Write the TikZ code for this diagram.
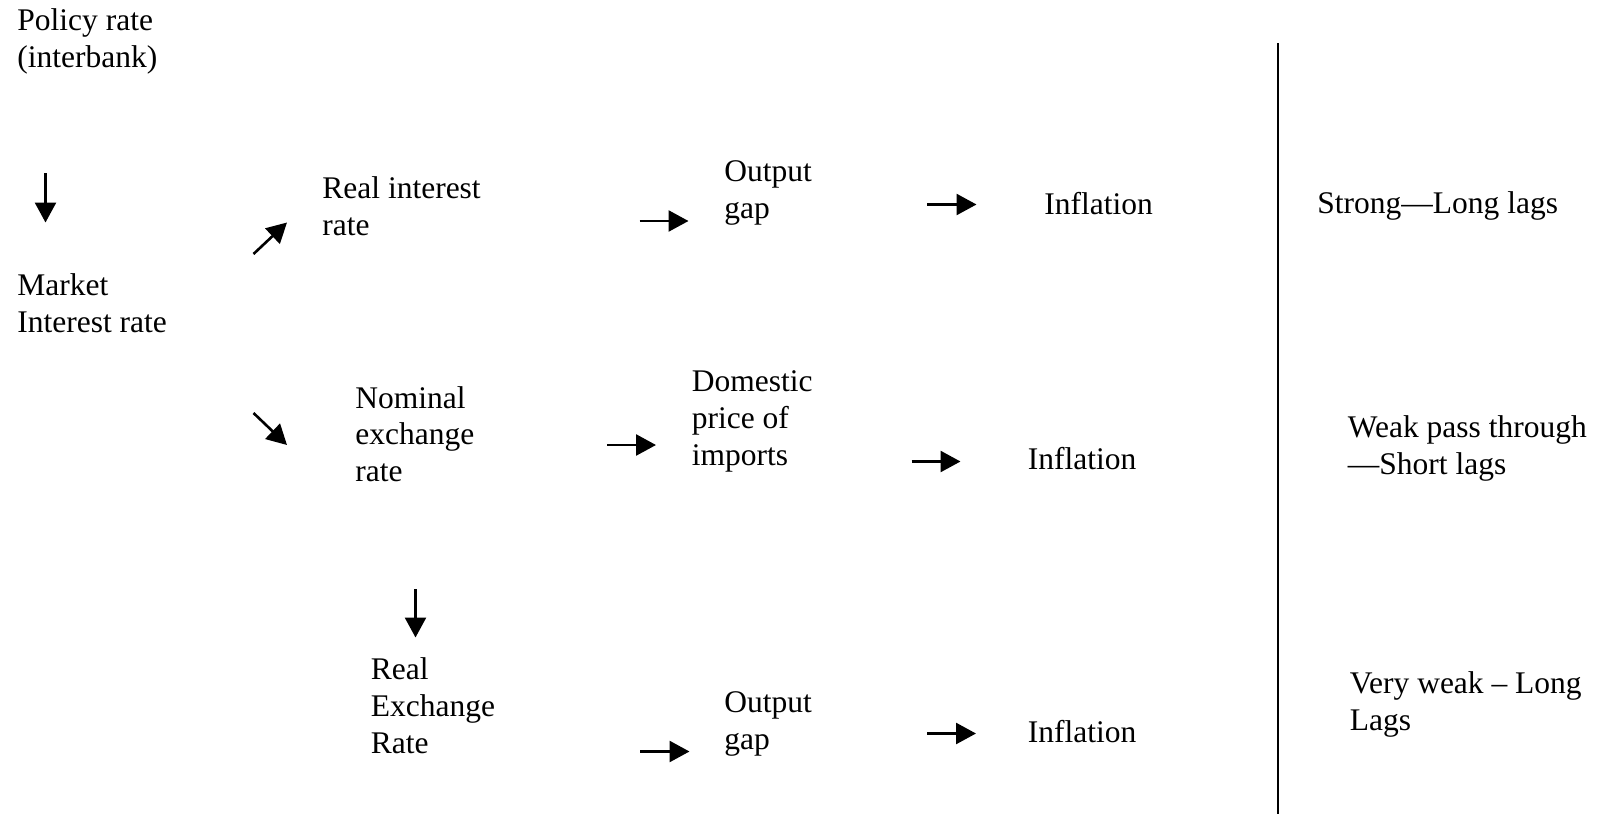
\documentclass[tikz,border=0pt]{standalone}
\usepackage{fontspec}
\setmainfont{Liberation Serif}
\usetikzlibrary{arrows.meta}

\begin{document}
\begin{tikzpicture}[x=0.5pt, y=-0.5pt, >={Triangle[length=10pt,width=10.5pt]},
    lbl/.style={anchor=base west, inner sep=0pt, align=left,
      font=\fontsize{15.75pt}{18.3pt}\selectfont},
    flow/.style={->, line width=1.3pt}]
    \useasboundingbox (0,0) rectangle (1597,814);

    % left column (base = last line)
    \node[lbl] (policy) at (17,67) {Policy rate\\(interbank)};
    \node[lbl] (market) at (17,332) {Market\\Interest rate};

    % first channel: interest rate
    \node[lbl] (realrate) at (322,235) {Real interest\\rate};
    \node[lbl] (gap1) at (724,218) {Output\\gap};
    \node[lbl] (infl1) at (1044,214) {Inflation};

    % second channel: exchange rate
    \node[lbl] (nominal) at (355,481.5) {Nominal\\exchange\\rate};
    \node[lbl] (imports) at (691.5,465) {Domestic\\price of\\imports};
    \node[lbl] (infl2) at (1027.5,469) {Inflation};

    % third channel: real exchange rate
    \node[lbl] (realexch) at (370.5,753) {Real\\Exchange\\Rate};
    \node[lbl] (gap3) at (724,749) {Output\\gap};
    \node[lbl] (infl3) at (1027.5,742) {Inflation};

    % strength of each channel
    \draw[line width=1.2pt] (1278,43) -- (1278,814);
    \node[lbl] (strong) at (1317,213.5) {Strong---Long lags};
    \node[lbl] (weak) at (1347.5,474.5) {Weak pass through\\---Short lags};
    \node[lbl] (veryweak) at (1349.5,730) {Very weak -- Long\\Lags};

    % arrow ends
    \coordinate (a1) at (45.5,173);   \coordinate (b1) at (45.5,222.5);
    \coordinate (a2) at (253.5,254);  \coordinate (b2) at (287,222.5);
    \coordinate (a3) at (639.5,221);  \coordinate (b3) at (688.5,221);
    \coordinate (a4) at (927,204.5);  \coordinate (b4) at (976.5,204.5);
    \coordinate (a5) at (253.5,413);  \coordinate (b5) at (287,445);
    \coordinate (a6) at (607,445);    \coordinate (b6) at (656,445);
    \coordinate (a7) at (911.5,461.5); \coordinate (b7) at (960.5,461.5);
    \coordinate (a8) at (415.5,589);  \coordinate (b8) at (415.5,637.5);
    \coordinate (a9) at (640,751.5);  \coordinate (b9) at (689.5,751.5);
    \coordinate (a10) at (927,733.5); \coordinate (b10) at (976,733.5);

    \foreach \i in {1,...,10}
      \draw[flow] (a\i) -- (b\i);
\end{tikzpicture}
\end{document}
